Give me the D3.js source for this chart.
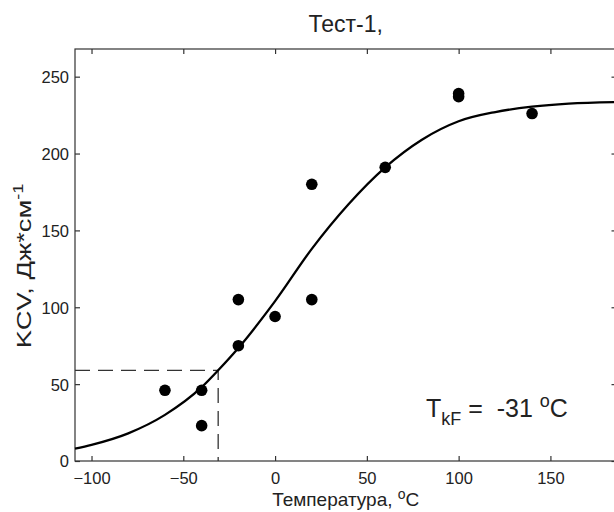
<!DOCTYPE html>
<html>
<head>
<meta charset="utf-8">
<script src="https://cdn.jsdelivr.net/npm/d3@7"></script>
<style>
  html, body { margin: 0; padding: 0; background: #fff; overflow: hidden; }
  text { font-family: "Liberation Sans", Arial, sans-serif; fill: #222; }
</style>
</head>
<body>
<svg id="chart" width="614" height="512"></svg>
<script>
// measured points (temperature, KCV)
const tempPoints = [-60, -40, -40, -20, -20, 0, 20, 20, 60, 100, 100, 140];
const kcvPoints = [46, 46, 23, 75, 105, 94, 105, 180, 191, 237, 239, 226];

// fitted transition curve
const curveTemp = [-109, -100, -80, -60, -40, -31, -20, 0, 20, 40, 60, 80, 100, 120, 140, 160, 186];
const curveKcv = [8, 10.5, 18, 30, 48, 59, 73.5, 104, 138, 167, 191, 209, 221, 227, 230.5, 232.5, 233.5];

const xTicks = [-100, -50, 0, 50, 100, 150];
const yTicks = [0, 50, 100, 150, 200, 250];

const tkf = -31;
const tkfLevel = 59;

const svg = d3.select("#chart");

// plot box: right border sits just past the picture edge
const x = d3.scaleLinear().domain([-109, 186]).range([75, 616.5]);
const y = d3.scaleLinear().domain([0, 268]).range([461, 49]);

const axisColor = "#333";
const tickLen = 5;
const plotCx = (x.range()[0] + x.range()[1]) / 2;
const nb = "\u00a0";

// frame
const plot = svg.append("g");
plot.append("rect")
  .attr("x", x.range()[0])
  .attr("y", y.range()[1])
  .attr("width", x.range()[1] - x.range()[0])
  .attr("height", y.range()[0] - y.range()[1])
  .attr("fill", "none")
  .attr("stroke", axisColor)
  .attr("stroke-width", 1.2);

// inward ticks on all four sides
const xAxisB = d3.axisBottom(x).tickValues(xTicks).tickSizeInner(-tickLen).tickSizeOuter(0).tickPadding(10);
const gxb = plot.append("g").attr("transform", `translate(0,${y(0)})`).call(xAxisB);
const xAxisT = d3.axisTop(x).tickValues(xTicks).tickSizeInner(-tickLen).tickSizeOuter(0).tickFormat("");
const gxt = plot.append("g").attr("transform", `translate(0,${y.range()[1]})`).call(xAxisT);

const yAxisL = d3.axisLeft(y).tickValues(yTicks).tickSizeInner(-tickLen).tickSizeOuter(0).tickPadding(6);
const gyl = plot.append("g").attr("transform", `translate(${x.range()[0]},0)`).call(yAxisL);
const yAxisR = d3.axisRight(y).tickValues(yTicks).tickSizeInner(-tickLen).tickSizeOuter(0).tickFormat("");
const gyr = plot.append("g").attr("transform", `translate(${x.range()[1]},0)`).call(yAxisR);

[gxb, gxt, gyl, gyr].forEach((g) => {
  g.select(".domain").remove();
  g.selectAll(".tick line").attr("stroke", axisColor).attr("stroke-width", 1.2);
  g.selectAll(".tick text")
    .attr("font-size", 16.5)
    .attr("fill", "#222");
});
gyl.selectAll(".tick text").attr("dy", "0.36em");
gxb.selectAll(".tick text").attr("dy", "0.8em");

// dashed guide lines for T_kF
svg.append("path")
  .attr("d", d3.line()([
    [x.range()[0], y(tkfLevel)],
    [x(tkf), y(tkfLevel)],
    [x(tkf), y(0)]
  ]))
  .attr("fill", "none")
  .attr("stroke", "#333")
  .attr("stroke-width", 1.3)
  .attr("stroke-dasharray", "15,8");

// curve
const curveData = curveTemp.map((t, i) => [t, curveKcv[i]]);
svg.append("path")
  .datum(curveData)
  .attr("d", d3.line().x((d) => x(d[0])).y((d) => y(d[1])).curve(d3.curveMonotoneX))
  .attr("fill", "none")
  .attr("stroke", "#000")
  .attr("stroke-width", 2.3);

// points
svg.append("g")
  .selectAll("circle")
  .data(tempPoints.map((t, i) => [t, kcvPoints[i]]))
  .join("circle")
  .attr("cx", (d) => x(d[0]))
  .attr("cy", (d) => y(d[1]))
  .attr("r", 5.8)
  .attr("fill", "#000");

// title
svg.append("text")
  .attr("x", plotCx)
  .attr("y", 32)
  .attr("text-anchor", "middle")
  .attr("font-size", 23)
  .text("Тест-1,");

// x label
const xl = svg.append("text")
  .attr("x", plotCx)
  .attr("y", 506)
  .attr("text-anchor", "middle")
  .attr("font-size", 19);
xl.append("tspan").text("Температура," + nb);
xl.append("tspan").attr("font-size", 14).attr("dy", -7).text("o");
xl.append("tspan").attr("dy", 7).text("C");

// y label (a little stretched along its length, as in the picture)
const yl = svg.append("text")
  .attr("transform", `translate(31,266) rotate(-90) scale(1.3,1)`)
  .attr("text-anchor", "middle")
  .attr("font-size", 21);
yl.append("tspan").text("KCV, Дж*см");
yl.append("tspan").attr("font-size", 14).attr("dy", -8).text("-1");

// annotation
const ann = svg.append("text")
  .attr("x", 426)
  .attr("y", 417)
  .attr("font-size", 25);
ann.append("tspan").text("T");
ann.append("tspan").attr("font-size", 18).attr("dy", 8).text("kF");
ann.append("tspan").attr("dy", -8).text(nb + "=" + nb + nb + "-31" + nb);
ann.append("tspan").attr("font-size", 18).attr("dy", -10).text("o");
ann.append("tspan").attr("dy", 10).text("C");
</script>
</body>
</html>
